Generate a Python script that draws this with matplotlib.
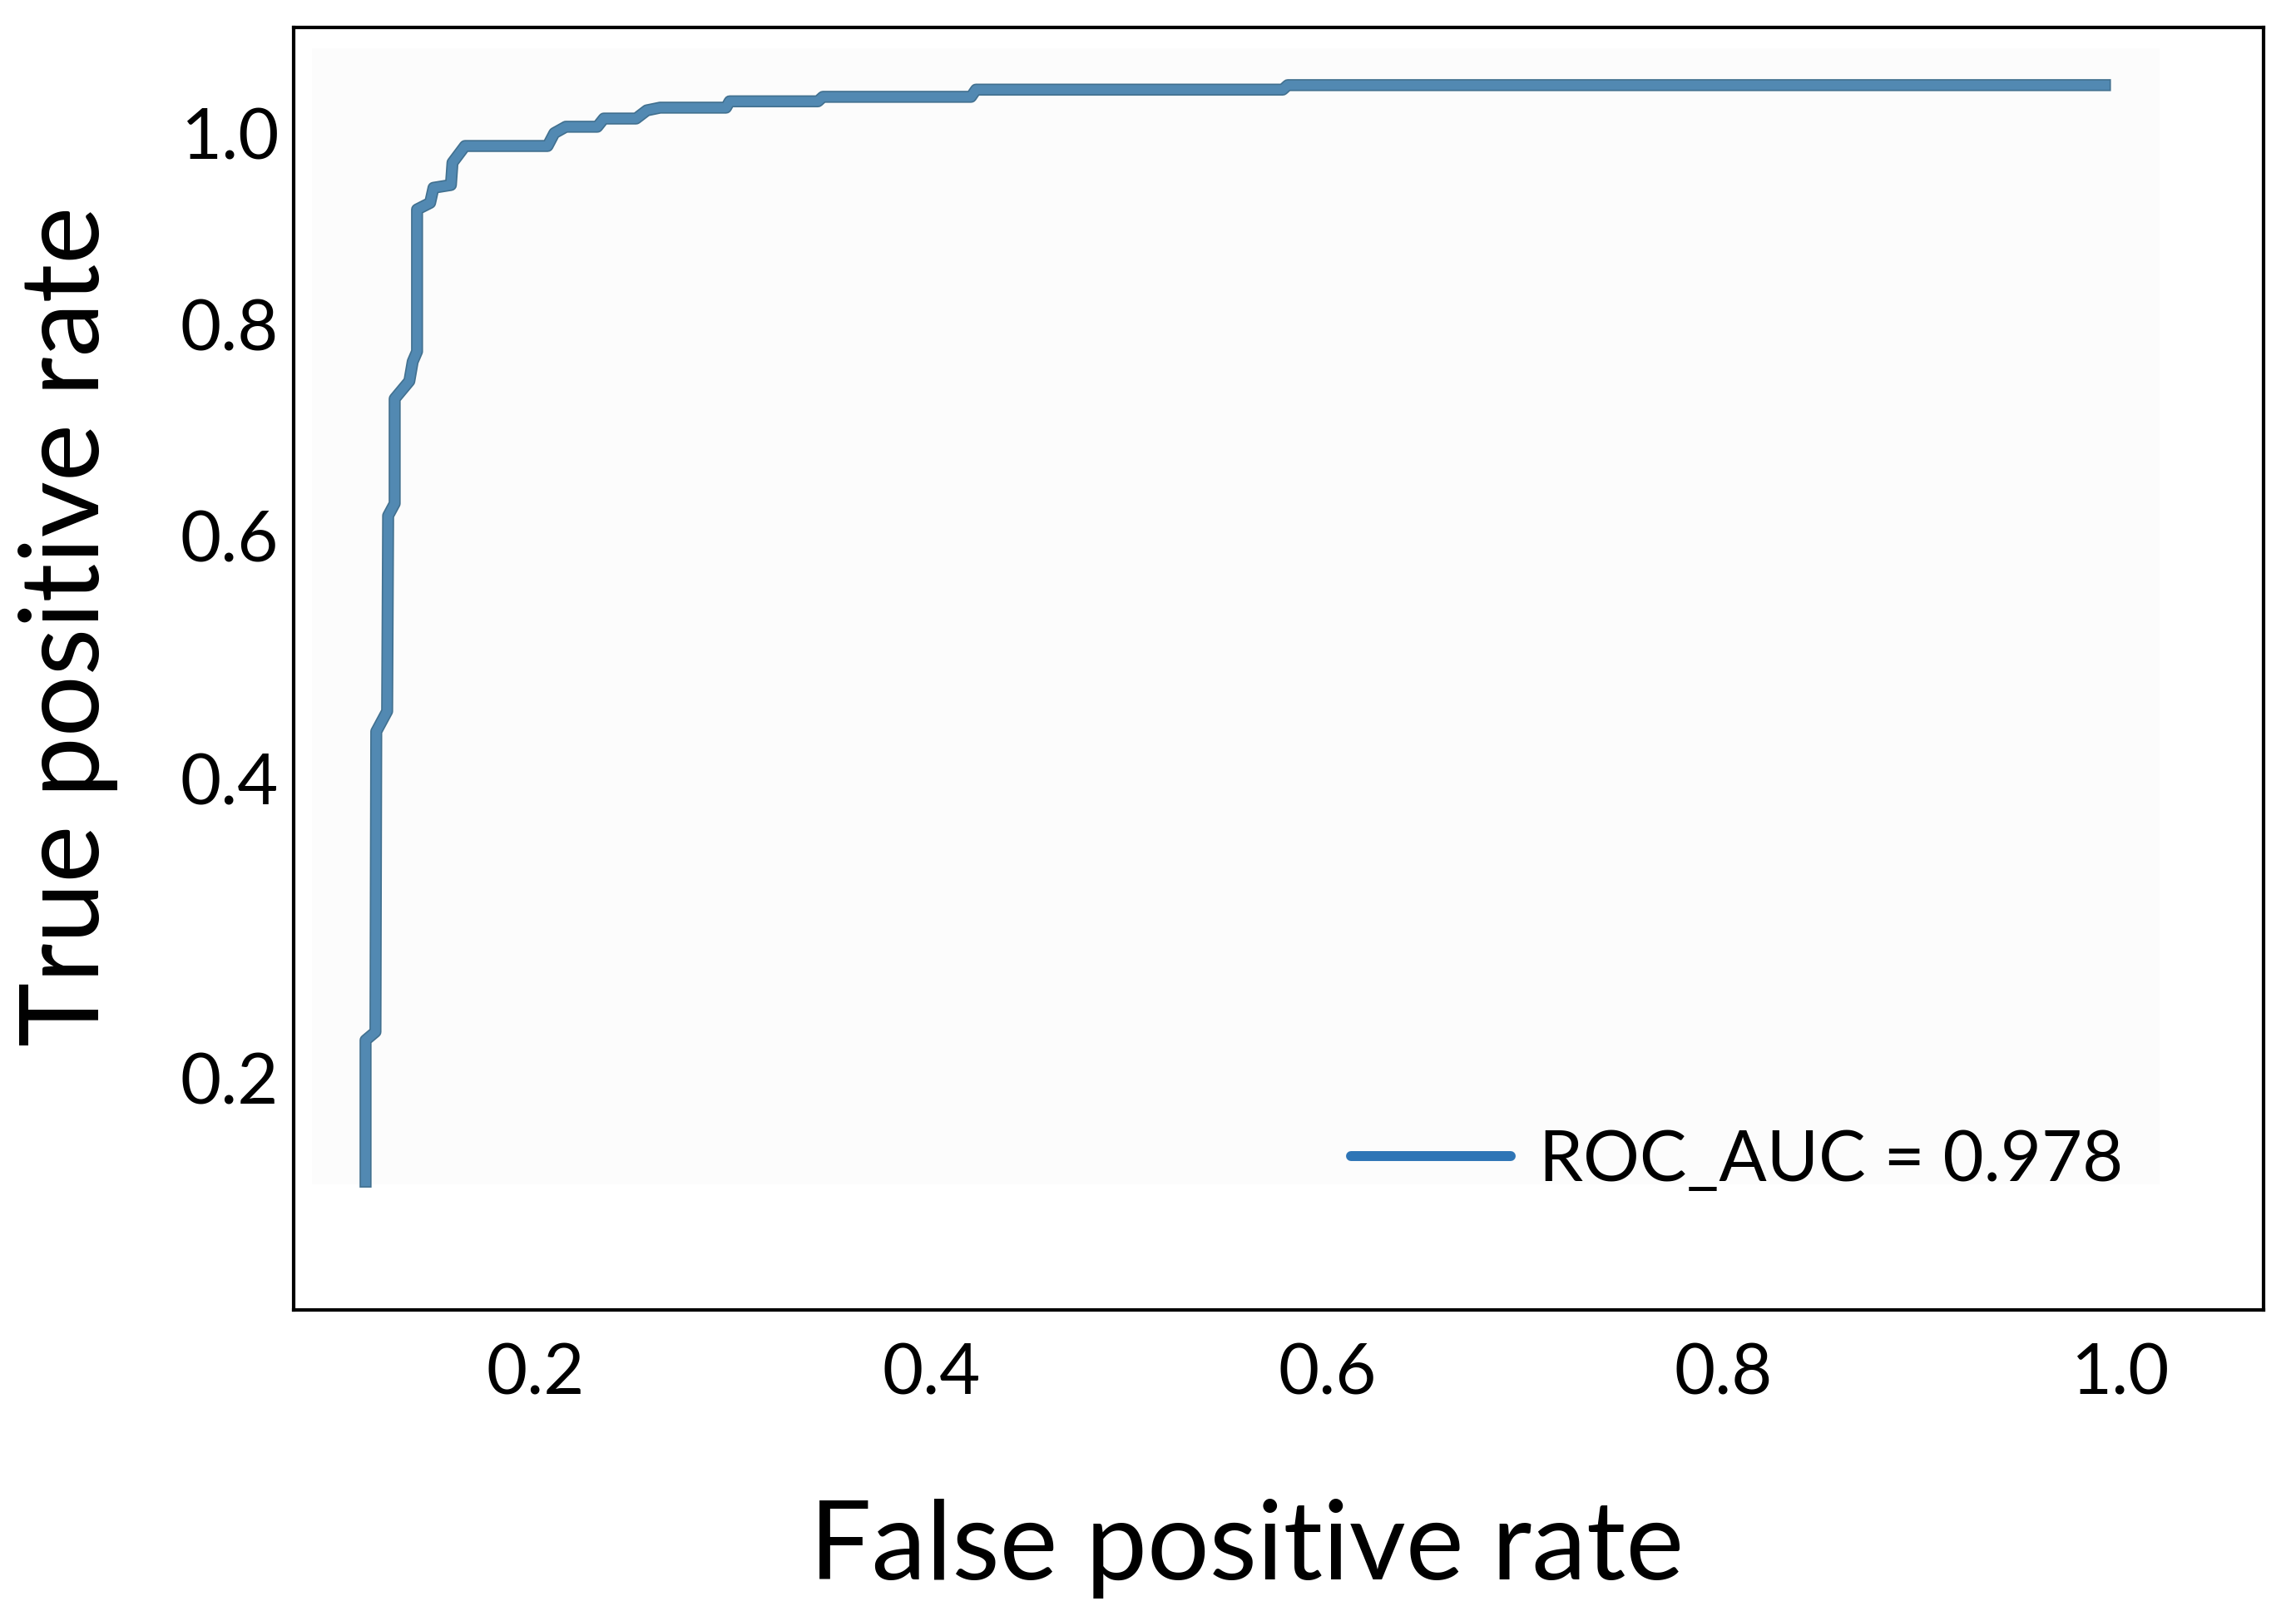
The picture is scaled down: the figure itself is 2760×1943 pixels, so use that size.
import numpy as np
import matplotlib
matplotlib.use("Agg")
import matplotlib.pyplot as plt
from matplotlib.lines import Line2D
from matplotlib.patches import Rectangle
import matplotlib.patheffects as pe

# ---- data ----
fpr = [0.1143, 0.1143, 0.1193, 0.1197, 0.1252, 0.1257, 0.1290, 0.1290, 0.1364, 0.1381,
       0.1403, 0.1403, 0.1469, 0.1486, 0.1574, 0.1582, 0.1645, 0.2062, 0.2096, 0.2154,
       0.2313, 0.2346, 0.2509, 0.2563, 0.2630, 0.2963, 0.2981, 0.3427, 0.3452, 0.4200,
       0.4225, 0.5774, 0.5799, 0.9925]
tpr = [0.144, 0.222, 0.227, 0.436, 0.452, 0.618, 0.629, 0.727, 0.744, 0.763,
       0.773, 0.918, 0.925, 0.941, 0.944, 0.968, 0.986, 0.986, 1.000, 1.007,
       1.007, 1.016, 1.016, 1.025, 1.028, 1.028, 1.035, 1.035, 1.040, 1.040,
       1.048, 1.048, 1.053, 1.053]
legend_label = "ROC_AUC = 0.978"
x_ticks = [0.2, 0.4, 0.6, 0.8, 1.0]
x_ticklabels = ["0.2", "0.4", "0.6", "0.8", "1.0"]
y_ticks = [0.2, 0.4, 0.6, 0.8, 1.0]
y_ticklabels = ["0.2", "0.4", "0.6", "0.8", "1.0"]
x_label = "False positive rate"
y_label = "True positive rate"

plt.rcParams['font.family'] = ['Lato', 'DejaVu Sans']

fig = plt.figure(figsize=(13.8, 9.715), dpi=200)
ax = fig.add_axes([0.1279, 0.1894, 0.8579, 0.7936])

p = 0.6
ax.set_yscale('function', functions=(lambda v: np.power(np.clip(v, 0, None), p),
                                     lambda v: np.power(np.clip(v, 0, None), 1.0 / p)))

# faint inner background panel
ax.add_patch(Rectangle((0.0092, 0.098), 0.938, 0.886, transform=ax.transAxes,
                       facecolor='#fcfcfc', edgecolor='none', zorder=0))

ax.plot(fpr, tpr, color='#5289b2', lw=4.0, solid_joinstyle='round', zorder=3,
        path_effects=[pe.Stroke(linewidth=5.2, foreground='#41708f'), pe.Normal()])

ax.set_xlim(0.078, 1.0725)
ax.set_ylim(0.0854, 1.1181)
ax.set_xticks(x_ticks)
ax.set_xticklabels(x_ticklabels)
ax.set_yticks(y_ticks)
ax.set_yticklabels(y_ticklabels)
ax.minorticks_off()
ax.tick_params(axis='both', length=0, labelsize=30.5, colors='black')
ax.tick_params(axis='x', pad=14)
ax.tick_params(axis='y', pad=6.5)

for s in ax.spines.values():
    s.set_linewidth(1.5)
    s.set_color('black')

ax.set_xlabel(x_label, fontsize=47.5)
ax.set_ylabel(y_label, fontsize=47)
ax.xaxis.set_label_coords(0.484, -0.147)
ax.yaxis.set_label_coords(-0.089, 0.533)

handle = Line2D([], [], color='#2e75b6', lw=4.3, solid_capstyle='round')
ax.legend([handle], [legend_label], loc='center left', bbox_to_anchor=(0.5368, 0.116),
          frameon=False, fontsize=30.5, handlelength=2.27, handletextpad=0.4,
          borderpad=0, borderaxespad=0)

fig.savefig('out.png', dpi=200)
